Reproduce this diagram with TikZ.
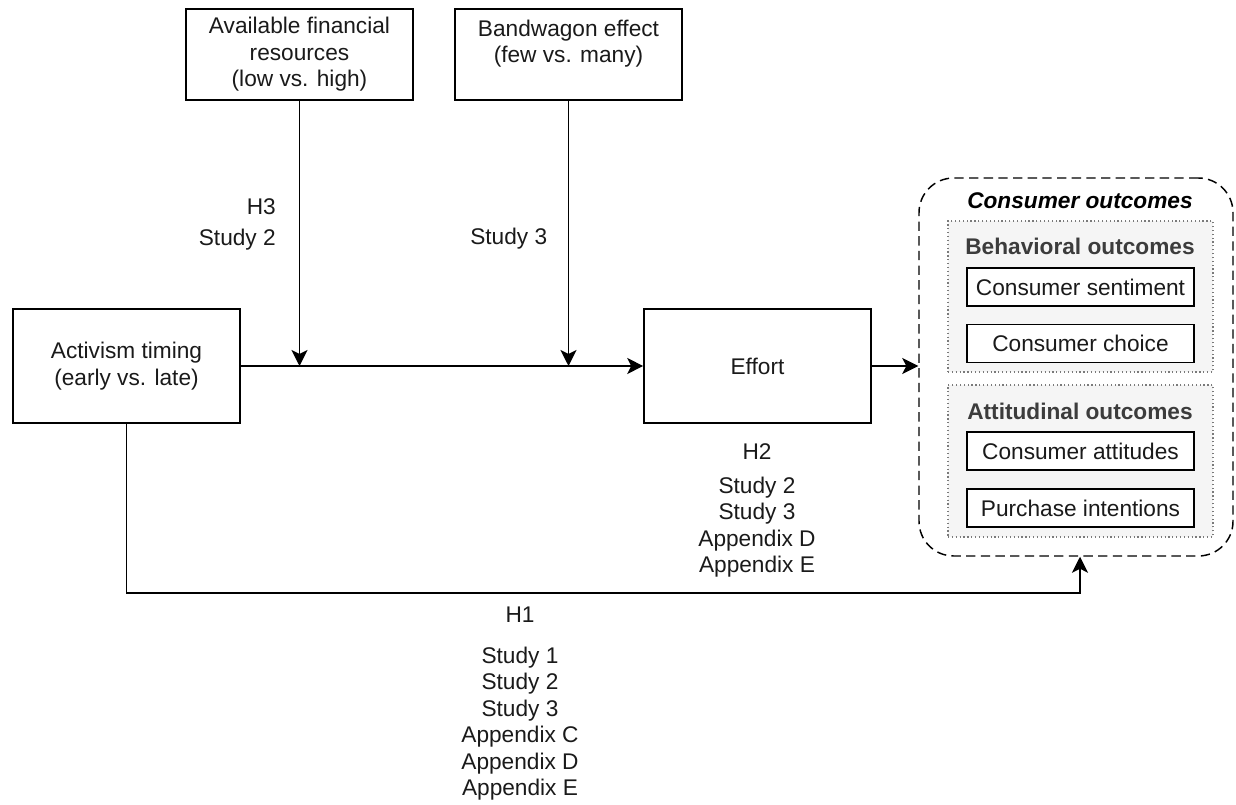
\documentclass[tikz,border=0pt]{standalone}
\usepackage{fontspec}
\setmainfont{Liberation Sans}
\usetikzlibrary{arrows.meta,positioning,calc}
\definecolor{txt}{HTML}{1A1A1A}
\definecolor{grpfill}{HTML}{F5F5F5}
\definecolor{grpline}{HTML}{7A7A7A}
\definecolor{grptxt}{HTML}{3C3C3C}
\tikzset{
  arr/.style={line width=1.1pt, draw=black, -{Stealth[length=12pt,width=12pt,inset=3pt]}},
  box/.style={draw=black, line width=1.2pt, fill=white, minimum width=#1*0.75pt, minimum height=114*0.75pt, inner sep=0pt, align=center, text=txt, font=\fontsize{17}{19.9}\selectfont},
  smallbox/.style={draw=black, line width=1.2pt, fill=white, minimum width=227*0.75pt, minimum height=38*0.75pt, inner sep=0pt, align=center, text=txt, font=\fontsize{17}{19.9}\selectfont},
  grp/.style={draw=grpline, dotted, line width=0.9pt, fill=grpfill},
  lbl/.style={align=center, text=txt, inner sep=0pt, font=\fontsize{17}{19.9}\selectfont},
  grptitle/.style={text=grptxt, inner sep=0pt, font=\fontsize{17}{19.9}\selectfont\bfseries},
}
\begin{document}
\begin{tikzpicture}[x=0.75pt,y=-0.75pt]
\useasboundingbox (0,0) rectangle (1236,805);
% outer dashed group
\node[draw=black, dashed, dash pattern=on 7pt off 4pt, line width=1.1pt, rounded corners=26pt, minimum width=314*0.75pt, minimum height=378*0.75pt, inner sep=0pt] (out) at (1076,367) {};
\node[inner sep=0pt, text=black, font=\fontsize{17}{19.9}\selectfont\bfseries\itshape] (outt) at (1080,201) {Consumer outcomes};
% behavioral group
\node[grp, minimum width=265*0.75pt, minimum height=151*0.75pt, inner sep=0pt] (beh) at (1080.5,296.5) {};
\node[grptitle] (beht) at (1080,246) {Behavioral outcomes};
\node[smallbox] (cs) at (1080.5,287) {Consumer sentiment};
\node[smallbox] (cc) at (1080.5,343.5) {Consumer choice};
% attitudinal group
\node[grp, minimum width=265*0.75pt, minimum height=152*0.75pt, inner sep=0pt] (att) at (1080.5,461) {};
\node[grptitle] (attt) at (1080,411) {Attitudinal outcomes};
\node[smallbox] (ca) at (1080.5,451) {Consumer attitudes};
\node[smallbox] (pi) at (1080.5,508) {Purchase intentions};
% main boxes
\node[box=227] (act) at (126.5,366) {Activism timing\\(early vs. late)};
\node[box=227] (eff) at (757.5,366) {Effort};
\node[box=227, minimum height=91*0.75pt] (fin) at (299.5,54.5) {};
\node[lbl] (fint) at (fin.center) {Available financial\\resources\\(low vs. high)};
\node[box=227, minimum height=91*0.75pt] (band) at (568.5,54.5) {};
\node[lbl] (bandt) at (568.5,43.5) {Bandwagon effect\\(few vs. many)};
% connectors
\coordinate (j1) at (fin.south |- act.east);
\coordinate (j2) at (band.south |- act.east);
\coordinate (bot) at (0,593);
\draw[arr] (fin.south) -- (j1);
\draw[arr] (band.south) -- (j2);
\draw[arr] (act.east) -- (eff.west);
\draw[arr] (eff.east) -- (eff.east -| out.west);
\draw[arr] (act.south) |- (bot -| outt.south) -- (outt.south |- out.south);
% labels
\node[lbl, anchor=east] (h3) at (276,207) {H3};
\node[lbl, anchor=east] (s2) at (276,240) {Study 2};
\node[lbl, anchor=west] (s3) at (470,239) {Study 3};
\node[lbl] (h2) at (757,452) {H2};
\node[lbl] (h2s) at (757,527) {Study 2\\Study 3\\Appendix D\\Appendix E};
\node[lbl] (h1) at (520,615) {H1};
\node[lbl] (h1s) at (520,723.5) {Study 1\\Study 2\\Study 3\\Appendix C\\Appendix D\\Appendix E};
\end{tikzpicture}
\end{document}
